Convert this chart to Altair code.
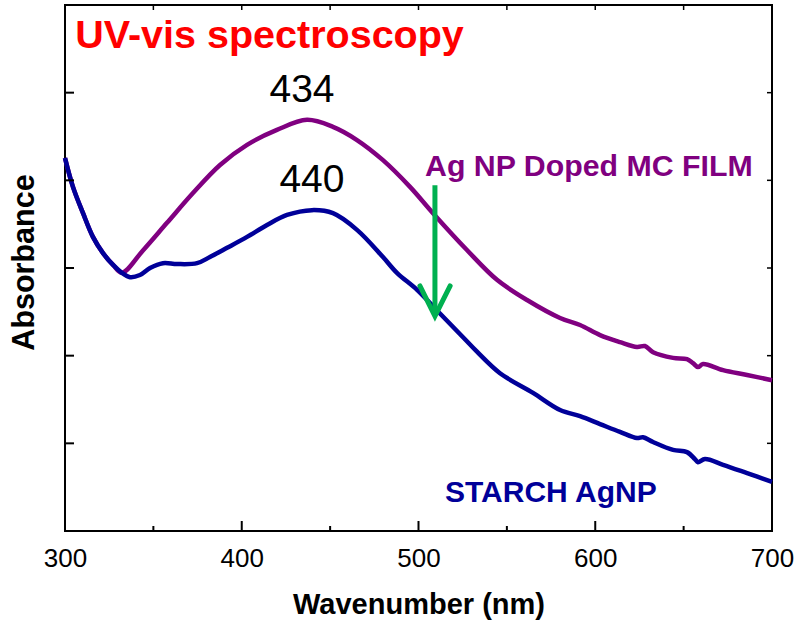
import altair as alt
import pandas as pd

# ---- data ----
wl_film = [300, 304.5, 310.2, 315.8, 321.5, 327.2, 332.2, 344.1, 357.7, 372.4, 387.7, 403.0,
           419.9, 436.9, 451.6, 465.2, 479.9, 495.2, 508.2, 527.4, 544.4, 561.4, 580.1, 591.4,
           602.7, 614.0, 623.6, 628.1, 632.7, 644.0, 651.9, 655.3, 658.1, 661.0, 672.3, 685.9, 700]
abs_film = [0.851, 0.785, 0.725, 0.671, 0.634, 0.607, 0.589, 0.640, 0.703, 0.771, 0.835, 0.881,
            0.915, 0.938, 0.922, 0.892, 0.846, 0.785, 0.725, 0.641, 0.573, 0.527, 0.486, 0.470,
            0.447, 0.431, 0.420, 0.422, 0.408, 0.395, 0.392, 0.383, 0.374, 0.381, 0.367, 0.356, 0.344]

wl_starch = [300, 304.5, 310.2, 315.8, 321.5, 327.2, 332.2, 336.8, 342.4, 348.1, 355.4, 363.4,
             374.7, 382.0, 391.7, 403.0, 414.3, 425.6, 439.7, 451.6, 465.2, 479.9, 487.8, 499.2,
             510.5, 525.2, 533.1, 546.1, 564.8, 580.1, 591.4, 602.7, 614.0, 623.6, 627.0, 632.7,
             644.0, 651.9, 656.4, 658.1, 662.1, 672.3, 685.9, 700]
abs_starch = [0.851, 0.785, 0.725, 0.671, 0.634, 0.607, 0.589, 0.579, 0.584, 0.600, 0.611, 0.609,
              0.611, 0.625, 0.646, 0.671, 0.698, 0.721, 0.732, 0.725, 0.687, 0.625, 0.589, 0.550,
              0.503, 0.442, 0.409, 0.360, 0.315, 0.276, 0.262, 0.244, 0.226, 0.212, 0.214, 0.203,
              0.185, 0.180, 0.164, 0.157, 0.164, 0.151, 0.132, 0.112]

x_major = [300, 400, 500, 600, 700]
x_minor = [350, 450, 550, 650]
x_top = [350, 400, 450, 500, 550, 600, 650]
y_ticks = [0.2, 0.4, 0.6, 0.8, 1.0]

# annotations: text, x (nm), y (absorbance)
ann_text = ["UV-vis spectroscopy", "434", "440", "Ag NP Doped MC FILM", "STARCH AgNP"]
ann_x = [305.8, 434.1, 439.7, 503.7, 515.0]
ann_y = [1.102, 0.979, 0.773, 0.810, 0.066]

arrow_x = [509.3, 509.3]
arrow_y = [0.789, 0.492]
head_x = [500.8, 509.3, 517.9]
head_y = [0.559, 0.490, 0.559]

W, H = 707, 526
FONT = "Liberation Sans"

xs = alt.Scale(domain=[300, 700], nice=False, zero=False)
ys = alt.Scale(domain=[0, 1.2], nice=False, zero=False)

film = pd.DataFrame({"wl": wl_film, "a": abs_film})
starch = pd.DataFrame({"wl": wl_starch, "a": abs_starch})

base_x = alt.X("wl:Q", scale=xs,
               axis=alt.Axis(values=x_major, ticks=False, domain=False, grid=False,
                             labelFontSize=26, labelFont=FONT, labelColor="black",
                             labelFlush=False, labelOverlap=False,
                             labelPadding=14, title="Wavenumber (nm)", titleFont=FONT,
                             titleFontSize=29, titleFontWeight="bold", titleColor="black",
                             titleBaseline="alphabetic", titleY=82))
base_y = alt.Y("a:Q", scale=ys,
               axis=alt.Axis(values=y_ticks, ticks=False, labels=False, domain=False, grid=False,
                             title="Absorbance", titleFont=FONT, titleFontSize=30.5,
                             titleFontWeight="bold", titleColor="black", titleAngle=270,
                             titleBaseline="alphabetic", titleAlign="center",
                             titleX=-32, titleY=257))

l_film = alt.Chart(film).mark_line(color="#800080", strokeWidth=4.5, interpolate="catmull-rom").encode(
    x=base_x, y=base_y)
l_starch = alt.Chart(starch).mark_line(color="#000099", strokeWidth=4.5, interpolate="catmull-rom").encode(
    x=alt.X("wl:Q", scale=xs), y=alt.Y("a:Q", scale=ys))

# ticks (inward)
t_major = alt.Chart(pd.DataFrame({"v": x_major})).mark_rule(color="black", strokeWidth=2).encode(
    x=alt.X("v:Q", scale=xs), y=alt.value(H), y2=alt.value(H - 10))
t_minor = alt.Chart(pd.DataFrame({"v": x_minor})).mark_rule(color="black", strokeWidth=2).encode(
    x=alt.X("v:Q", scale=xs), y=alt.value(H), y2=alt.value(H - 5))
t_top = alt.Chart(pd.DataFrame({"v": x_top})).mark_rule(color="black", strokeWidth=1.5).encode(
    x=alt.X("v:Q", scale=xs), y=alt.value(0), y2=alt.value(5))
t_left = alt.Chart(pd.DataFrame({"v": y_ticks})).mark_rule(color="black", strokeWidth=2).encode(
    y=alt.Y("v:Q", scale=ys), x=alt.value(0), x2=alt.value(9))
t_right = alt.Chart(pd.DataFrame({"v": y_ticks})).mark_rule(color="black", strokeWidth=1.5).encode(
    y=alt.Y("v:Q", scale=ys), x=alt.value(W), x2=alt.value(W - 5))

ann = pd.DataFrame({"t": ann_text, "x": ann_x, "y": ann_y})
def txt(i, color, size, weight, align):
    return alt.Chart(ann.iloc[[i]]).mark_text(
        color=color, fontSize=size, fontWeight=weight, font=FONT, align=align,
        baseline="alphabetic").encode(
        x=alt.X("x:Q", scale=xs), y=alt.Y("y:Q", scale=ys), text="t:N")

texts = [
    txt(0, "#FF0000", 39.5, "bold", "left"),
    txt(1, "black", 39, "normal", "center"),
    txt(2, "black", 39, "normal", "center"),
    txt(3, "#800080", 30.3, "bold", "left"),
    txt(4, "#000099", 30, "bold", "left"),
]

shaft = alt.Chart(pd.DataFrame({"x": arrow_x, "y": arrow_y})).mark_line(
    color="#00B050", strokeWidth=5).encode(
    x=alt.X("x:Q", scale=xs), y=alt.Y("y:Q", scale=ys))
head = alt.Chart(pd.DataFrame({"x": head_x, "y": head_y, "o": [0, 1, 2]})).mark_line(
    color="#00B050", strokeWidth=5, strokeCap="round", strokeJoin="miter").encode(
    x=alt.X("x:Q", scale=xs), y=alt.Y("y:Q", scale=ys), order="o:Q")

chart = alt.layer(l_film, l_starch, shaft, head, t_major, t_minor, t_top, t_left, t_right,
                  *texts).properties(
    width=W, height=H, autosize=alt.AutoSizeParams(type="none"),
    padding={"left": 65, "top": 5, "right": 35, "bottom": 92},
    background="white",
).configure_view(stroke="black", strokeWidth=2)

chart.save("out.html", embed_options={"renderer": "svg", "actions": False})
